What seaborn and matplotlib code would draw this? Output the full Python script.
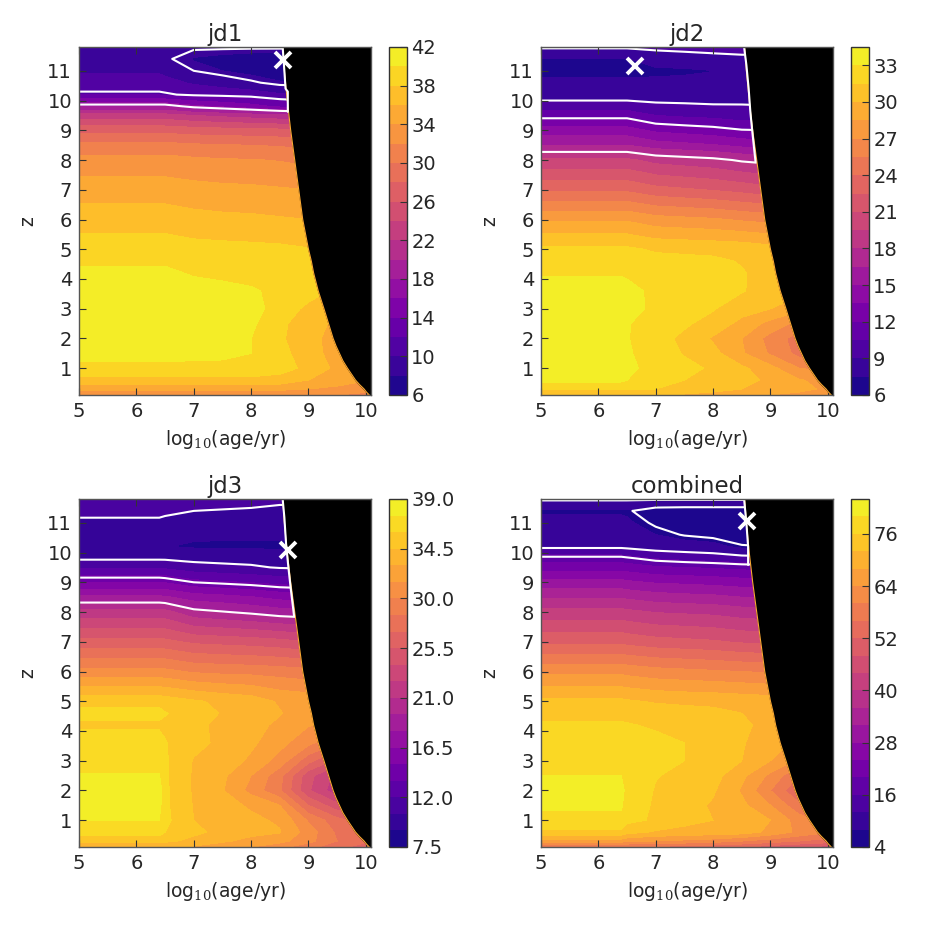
import numpy as np
import matplotlib
matplotlib.use('Agg')
import matplotlib.pyplot as plt
import seaborn as sns

# grid the surfaces were read on, they stay flat from age 5 up to the first column
log_age = [6.4, 6.5, 7, 7.5, 8, 8.5, 9, 9.5, 10.1]
z_grid = [0.1, 0.3, 0.6, 1, 1.5, 2, 2.5, 3, 3.6, 4.2, 4.6, 5, 6, 7, 8, 8.5, 9, 9.5, 9.8, 10.2, 10.6, 11, 11.4, 11.8]

# one row per z_grid entry, one column per log_age entry
jd1_vals = [
    [32, 32, 32, 32, 32, 32, 32, 32, 31],
    [34.5, 34.5, 34.5, 34.5, 34.5, 34.5, 34, 33.5, 33],
    [37.4, 37.4, 37.4, 37.4, 37.4, 37.2, 36, 35, 34],
    [39.5, 39.5, 39.5, 39.5, 39.5, 38.8, 37.5, 35.5, 34.5],
    [40.6, 40.6, 40.5, 40.4, 40, 38.6, 37, 35, 34],
    [41, 41, 41, 41, 40, 38.3, 36.8, 35, 34],
    [41, 41, 41, 41, 40.4, 38.4, 37, 35.5, 34],
    [41, 41, 41, 41, 40.9, 39, 37.6, 36, 35],
    [41, 41, 40.8, 40.5, 40.2, 39.6, 38.7, 37.7, 36.5],
    [40.4, 40.4, 39.8, 39.6, 39.4, 39.2, 38.9, 38.4, 37.5],
    [39.7, 39.7, 39.3, 39.2, 39.1, 38.9, 38.6, 38.4, 38],
    [39, 39, 38.7, 38.6, 38.5, 38.4, 38.1, 38, 38],
    [37.1, 37.1, 36.7, 36.5, 36.4, 36.2, 36, 36, 36],
    [35, 35, 34.7, 34.5, 34.4, 34.2, 34, 34, 34],
    [32.7, 32.7, 32.4, 32.2, 32.1, 31.9, 31.5, 31.5, 31.5],
    [30.6, 30.6, 30.3, 30.1, 30, 29.8, 29.5, 29.5, 29.5],
    [27.3, 27.3, 27, 26.8, 26.7, 26.5, 26, 26, 26],
    [22.8, 22.8, 22, 21.5, 21, 20.5, 20, 20, 20],
    [18, 18, 16.5, 15.7, 14.8, 13.6, 13, 13, 13],
    [11.8, 11.7, 11.2, 11, 10.8, 10.2, 10, 10, 10],
    [10.6, 10.5, 9.8, 9.3, 8.7, 8.1, 8, 8, 8],
    [9.8, 9.6, 8.5, 8, 7.6, 7.4, 7.4, 7.4, 7.4],
    [9, 8.7, 7.9, 7.6, 7.3, 7.2, 7.2, 7.2, 7.2],
    [9.1, 8.95, 8.7, 8.7, 8.7, 8.7, 8.7, 8.7, 8.7],
]
jd2_vals = [
    [30, 30, 30, 29.8, 29.5, 29, 28.5, 28, 27.5],
    [31.5, 31.5, 31.5, 31, 30.5, 30, 29.5, 29, 28],
    [33.4, 33, 32, 31.5, 31, 30.5, 29.7, 28.6, 28],
    [33.8, 33.4, 32.4, 31.9, 31.3, 30.3, 29, 27, 26.5],
    [34, 33.2, 32.2, 31.4, 30.5, 28.7, 26.8, 25, 25],
    [34.2, 33.1, 32, 31.2, 29.8, 28.5, 26.4, 24.8, 25],
    [34.2, 33.1, 32.3, 31.7, 31, 29.5, 28, 26.5, 26],
    [34.2, 33.5, 32.7, 32.6, 31.6, 30.7, 30, 29, 28],
    [33.8, 33.4, 32.7, 32.6, 32.5, 31.6, 30.9, 30.4, 30],
    [32.8, 32.8, 32.6, 32.4, 32.2, 31.6, 31, 30.7, 30],
    [32.3, 32.3, 32, 31.9, 31.8, 31.4, 30.9, 30.6, 30.3],
    [31.8, 31.8, 31.3, 31.2, 31.1, 31, 30.6, 30.4, 30],
    [28.3, 28.3, 27.6, 27.4, 27.2, 26.8, 26.5, 26.5, 26.5],
    [23.7, 23.7, 23, 22.7, 22.4, 22, 21.5, 21.5, 21.5],
    [19.8, 19.8, 19, 18.7, 18.4, 17.8, 17.5, 17.5, 17.5],
    [16.5, 16.5, 15.7, 15.4, 15.1, 14.6, 14, 14, 14],
    [14.1, 14.1, 13.2, 12.9, 12.6, 12.1, 12, 12, 12],
    [11.5, 11.5, 10.5, 10.2, 10, 9.6, 9.5, 9.5, 9.5],
    [9.7, 9.7, 9.4, 9.3, 9.2, 9.2, 9.1, 9.1, 9.1],
    [8.3, 8.3, 8.2, 8.2, 8.1, 8, 8, 8, 8],
    [7.7, 7.7, 7.7, 7.75, 7.8, 7.9, 7.9, 7.9, 7.9],
    [7.2, 7.2, 7.3, 7.35, 7.48, 7.7, 7.7, 7.7, 7.7],
    [7.45, 7.45, 8, 8.1, 8.2, 8.3, 8.3, 8.3, 8.3],
    [9.2, 9.2, 9.4, 9.6, 9.9, 10.3, 10.3, 10.3, 10.3],
]
jd3_vals = [
    [33, 33, 32.8, 32.3, 31.5, 30.5, 29, 27.5, 26],
    [35, 34.9, 34, 33.2, 32.6, 32, 30.5, 28.5, 27],
    [36.7, 36, 34.9, 34, 33.4, 33.1, 30.8, 28.2, 27],
    [37.5, 36.4, 34.5, 33.8, 33.3, 32.8, 29.8, 27.5, 26],
    [38, 36.3, 34.4, 33.5, 32.8, 31.5, 27, 24.5, 23],
    [38.3, 36.3, 34.3, 33.1, 31, 28.7, 24.2, 21.5, 21],
    [37.6, 36.2, 34.3, 33.3, 31.5, 29, 24.5, 22, 22],
    [37, 36.2, 34.4, 33.9, 32.7, 30.9, 27.5, 25, 24],
    [36.8, 36.1, 34.9, 34.2, 33.3, 32, 30.4, 28.5, 27],
    [35.7, 35.7, 34.8, 34.2, 33.5, 32.7, 31.6, 31, 30],
    [36.5, 36.1, 35.2, 34.4, 33.8, 33.1, 32.2, 31.5, 31],
    [35.4, 35.3, 34.7, 34.2, 33.8, 32.8, 32.5, 32, 31.5],
    [30.5, 30.4, 29.8, 29.6, 29.5, 29.3, 29, 29, 29],
    [26, 25.9, 25.2, 25, 24.8, 24.5, 24, 24, 24],
    [21.6, 21.5, 20, 19.6, 19.2, 18.7, 18.5, 18.5, 18.5],
    [18.3, 18.2, 17.3, 17, 16.6, 16, 15.8, 15.8, 15.8],
    [15, 14.9, 14, 13.7, 13.4, 13, 12.8, 12.8, 12.8],
    [11.8, 11.7, 11.1, 10.9, 10.7, 10.4, 10.3, 10.3, 10.3],
    [10.3, 10.3, 10.1, 10, 10, 9.6, 9.5, 9.5, 9.5],
    [9.1, 9.05, 8.85, 8.8, 8.8, 8.8, 8.8, 8.8, 8.8],
    [9.5, 9.4, 9.2, 9.2, 9.2, 9.2, 9.2, 9.2, 9.2],
    [10.2, 10.1, 9.6, 9.5, 9.4, 9.3, 9.3, 9.3, 9.3],
    [10.9, 10.8, 10.5, 10.4, 10.3, 10.1, 10.1, 10.1, 10.1],
    [11.6, 11.5, 11.3, 11.2, 11.1, 10.9, 10.9, 10.9, 10.9],
]
combined_vals = [
    [55, 55, 55, 54, 53, 52, 50, 48, 46],
    [66, 65, 64, 63, 62, 60, 58, 56, 54],
    [75, 73.5, 71.5, 71, 70.5, 70, 67, 63, 60],
    [79, 77, 75.5, 73, 72, 71.5, 68, 62, 58],
    [80.5, 78, 75.5, 73.5, 71.5, 69, 64, 57, 54],
    [81, 79, 75.7, 74, 72.5, 67.5, 60, 52, 52],
    [80, 78.5, 76.2, 75, 73.5, 69, 63, 56, 56],
    [79, 78.5, 76.8, 76, 74.5, 72, 68, 63, 60],
    [77.5, 77.5, 77, 76, 74.5, 72.3, 70, 67, 64],
    [76.5, 76.3, 75.5, 74.8, 74, 72.6, 71, 69, 67],
    [74.8, 74.8, 74, 73.5, 73, 72, 71, 70, 68],
    [72.8, 72.5, 71.6, 71.2, 71, 70.5, 70, 69, 68],
    [63, 62.6, 61.5, 61, 60.5, 60, 59.5, 59.5, 59.5],
    [51, 50.6, 49.5, 49, 48.5, 47.5, 47, 47, 47],
    [41.3, 41, 39.8, 39.4, 39, 38, 37.5, 37.5, 37.5],
    [35.6, 35.2, 34, 33.4, 33, 32, 31.5, 31.5, 31.5],
    [29.2, 28.8, 27.6, 27.2, 26.7, 26, 25.5, 25.5, 25.5],
    [22.3, 22, 20.5, 20, 19.5, 18.8, 18.5, 18.5, 18.5],
    [18, 17.6, 15.8, 15, 14.4, 13.6, 13.2, 13.2, 13.2],
    [11.2, 11, 10, 9.5, 9, 7.2, 7, 7, 7],
    [10, 9.9, 8, 6.8, 6.2, 5.8, 5.8, 5.8, 5.8],
    [8.8, 8.5, 6.5, 5.4, 5, 4.9, 4.9, 4.9, 4.9],
    [7.6, 7.5, 4.8, 4.5, 4.5, 4.5, 4.5, 4.5, 4.5],
    [12.6, 12.6, 12.6, 12.6, 12.6, 12.6, 12.6, 12.6, 12.6],
]

# age limit of the surface, right of it everything is black
edge_z = [0.1, 0.2, 0.3, 0.45, 0.6, 0.8, 1, 1.25, 1.5, 1.75, 2, 2.5, 3, 3.6, 4.2, 4.6, 5, 6, 7, 8, 9, 10, 11, 11.8]
edge_age = [10.06, 10.01, 9.97, 9.89, 9.82, 9.75, 9.68, 9.6, 9.54, 9.48, 9.43, 9.35, 9.27, 9.17, 9.09, 9.05, 9.0, 8.9, 8.83, 8.76, 8.69, 8.63, 8.58, 8.55]

titles = ['jd1', 'jd2', 'jd3', 'combined']
level_lows = [6, 6, 7.5, 4]
level_highs = [42, 34.5, 39, 84]
level_steps = [2, 1.5, 1.5, 4]
tick_every = [2, 2, 3, 3]
white_levels = [[8.5, 11.5, 17], [9, 12, 18], [10.5, 14, 19.5], [7, 12, 17]]
best_age = [8.55, 6.64, 8.65, 8.59]
best_z = [11.37, 11.17, 10.09, 11.07]

# white outline along the age limit
white_edge_age = [
    [8.55, 8.58, 8.6, 8.64, 8.64],
    [8.54, 8.58, 8.62, 8.65, 8.69, 8.74],
    [8.55, 8.58, 8.61, 8.65, 8.69, 8.75],
    [8.54, 8.58, 8.61, 8.61],
]
white_edge_z = [
    [11.8, 11.0, 10.4, 10.3, 9.62],
    [11.8, 11.2, 10.4, 9.6, 8.83, 7.93],
    [11.8, 11.18, 10.28, 9.5, 8.8, 7.85],
    [11.8, 11.0, 10.2, 9.58],
]

sns.set_style('ticks')
plt.rcParams['font.family'] = ['DejaVu Sans']
plt.rcParams['mathtext.fontset'] = 'dejavuserif'
plt.rcParams['text.color'] = '#262626'
plasma = sns.color_palette('plasma', as_cmap=True)

fig = plt.figure(figsize=(9.26, 9.26), dpi=100)
surfaces = [jd1_vals, jd2_vals, jd3_vals, combined_vals]

# pixel boxes of the panels, (left, top)
corners = [(79, 47), (541, 47), (79, 499), (541, 499)]

for i, (left, top) in enumerate(corners):
    ax = fig.add_axes([left / 926, 1 - (top + 348) / 926, 292 / 926, 348 / 926])
    cax = fig.add_axes([(left + 310) / 926, 1 - (top + 348) / 926, 18 / 926, 348 / 926])

    vals = np.array(surfaces[i])
    vals = np.column_stack((vals[:, 0], vals))
    ages = [5] + log_age

    levels = np.arange(level_lows[i], level_highs[i] + 0.01, level_steps[i])
    cf = ax.contourf(ages, z_grid, vals, levels=levels, cmap=plasma)
    ax.contour(ages, z_grid, vals, levels=white_levels[i], colors='white', linewidths=1.5)
    ax.fill_betweenx(edge_z, edge_age, 10.2, color='black', zorder=3)
    ax.plot(edge_age, edge_z, color='#f9a832', lw=0.8, zorder=3)
    ax.plot(white_edge_age[i], white_edge_z[i], color='white', lw=1.5, zorder=4)
    ax.plot(best_age[i], best_z[i], 'x', color='white', ms=11, mew=2.8, zorder=5)

    ax.set_xlim(5, 10.09)
    ax.set_ylim(0.1, 11.8)
    ax.set_xticks([5, 6, 7, 8, 9, 10])
    ax.set_yticks(range(1, 12))
    ax.set_axisbelow(False)
    ax.tick_params(direction='in', top=True, right=True, length=5, width=0.8, labelsize=14, color='#333333', labelcolor='#262626', pad=5)
    ax.set_title(titles[i], fontsize=16.5, pad=4)
    ax.set_xlabel('log$_{\\mathrm{10}}$(age/yr)', fontsize=13.5, labelpad=5)
    ax.set_ylabel('z', fontsize=13.5, labelpad=7)
    for spine in ax.spines.values():
        spine.set_color('#555555')
        spine.set_linewidth(1.0)
        spine.set_zorder(6)

    cbar = fig.colorbar(cf, cax=cax, ticks=levels[::tick_every[i]])
    cbar.ax.set_axisbelow(False)
    cbar.ax.tick_params(direction='in', length=5, width=0.8, labelsize=14, color='#333333', labelcolor='#262626', pad=3)
    cbar.outline.set_edgecolor('#333333')
    cbar.outline.set_linewidth(1.0)
    if level_steps[i] == 1.5 and tick_every[i] == 3:
        cbar.ax.set_yticklabels([f'{t:.1f}' for t in levels[::3]])
    else:
        cbar.ax.set_yticklabels([f'{t:g}' for t in levels[::tick_every[i]]])

plt.savefig('out.png', dpi=100)
plt.close()
